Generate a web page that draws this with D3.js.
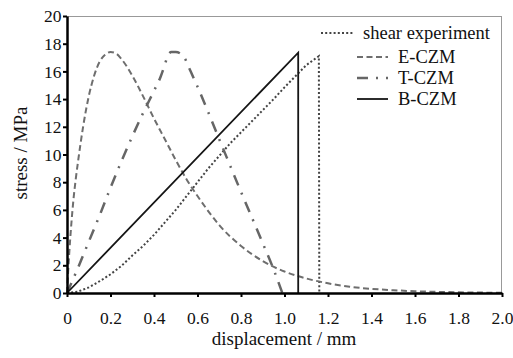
<!DOCTYPE html>
<html>
<head>
<meta charset="utf-8">
<script src="https://cdn.jsdelivr.net/npm/d3@7"></script>
<style>
  body { margin: 0; background: #fff; }
  svg { display: block; font-family: "Liberation Serif", "DejaVu Serif", serif; }
</style>
</head>
<body>
<svg id="chart" width="513" height="358"></svg>
<script>
// values (displacement mm, stress MPa)
var shearX = [0, 0.05, 0.1, 0.15, 0.2, 0.25, 0.3, 0.35, 0.4, 0.45, 0.5, 0.55, 0.6, 0.65, 0.7, 0.75, 0.8, 0.85, 0.9, 0.95, 1.0, 1.05, 1.1, 1.14, 1.158, 1.16];
var shearY = [0, 0.1, 0.4, 0.85, 1.35, 1.95, 2.7, 3.4, 4.2, 5.1, 6.0, 7.0, 8.0, 9.0, 9.9, 10.8, 11.6, 12.4, 13.2, 14.0, 14.85, 15.65, 16.45, 16.9, 17.1, 0];

var eczmX = [0, 0.01, 0.02, 0.03, 0.04, 0.05, 0.075, 0.1, 0.125, 0.15, 0.175, 0.2, 0.225, 0.25, 0.3, 0.35, 0.4, 0.45, 0.5, 0.55, 0.6, 0.65, 0.7, 0.8, 0.9, 1.0, 1.1, 1.2, 1.3, 1.4, 1.5, 1.6, 1.8, 2.0];
var eczmY = [0, 2.8, 5.0, 6.8, 8.2, 9.4, 12.1, 14.2, 15.7, 16.7, 17.2, 17.4, 17.3, 16.9, 15.7, 14.2, 12.6, 11.1, 9.6, 8.2, 7.0, 5.9, 4.9, 3.4, 2.3, 1.55, 1.05, 0.7, 0.45, 0.3, 0.2, 0.13, 0.05, 0.02];

var tczmX = [0, 0.05, 0.1, 0.15, 0.2, 0.25, 0.3, 0.35, 0.4, 0.43, 0.45, 0.465, 0.48, 0.5, 0.52, 0.54, 0.56, 0.58, 0.6, 0.7, 0.8, 0.9, 0.95, 0.99];
var tczmY = [0, 1.8, 3.7, 5.6, 7.6, 9.5, 11.3, 13.0, 14.6, 15.6, 16.5, 17.2, 17.4, 17.4, 17.3, 17.0, 16.3, 15.6, 14.9, 11.1, 7.3, 3.6, 1.7, 0];

var bczmX = [0, 1.063, 1.063];
var bczmY = [0, 17.35, 0];

var xTicks = [0, 0.2, 0.4, 0.6, 0.8, 1.0, 1.2, 1.4, 1.6, 1.8, 2.0];
var yTicks = [0, 2, 4, 6, 8, 10, 12, 14, 16, 18, 20];

var series = [
  { name: 'shear experiment', xs: shearX, ys: shearY, color: '#444', width: 2, dash: '2,2.2', curve: d3.curveLinear, lx: [321, 354] },
  { name: 'E-CZM', xs: eczmX, ys: eczmY, color: '#6e6e6e', width: 2, dash: '6,3.5', curve: d3.curveMonotoneX, lx: [357, 388] },
  { name: 'T-CZM', xs: tczmX, ys: tczmY, color: '#666', width: 2.5, dash: '11,8,2,8', curve: d3.curveMonotoneX, lx: [357, 388] },
  { name: 'B-CZM', xs: bczmX, ys: bczmY, color: '#151515', width: 1.8, dash: null, curve: d3.curveLinear, lx: [357, 388] }
];

var svg = d3.select('#chart');
var plotLeft = 67, plotRight = 502, plotTop = 16, plotBottom = 293;

var x = d3.scaleLinear().domain([0, 2]).range([plotLeft, plotRight]);
var y = d3.scaleLinear().domain([0, 20]).range([plotBottom, plotTop]);

// thin frame on top and right
svg.append('line').attr('x1', plotLeft).attr('x2', plotRight).attr('y1', plotTop + 0.5).attr('y2', plotTop + 0.5)
  .attr('stroke', '#999').attr('stroke-width', 1);
svg.append('line').attr('x1', plotRight - 0.5).attr('x2', plotRight - 0.5).attr('y1', plotTop).attr('y2', plotBottom)
  .attr('stroke', '#999').attr('stroke-width', 1);

// curves
series.forEach(function (s) {
  var pts = s.xs.map(function (v, i) { return [v, s.ys[i]]; });
  var line = d3.line().x(function (d) { return x(d[0]); }).y(function (d) { return y(d[1]); }).curve(s.curve);
  svg.append('path')
    .attr('d', line(pts))
    .attr('fill', 'none')
    .attr('stroke', s.color)
    .attr('stroke-width', s.width)
    .attr('stroke-dasharray', s.dash)
    .attr('stroke-linejoin', 'miter');
});

// axes
var xAxis = d3.axisBottom(x).tickValues(xTicks).tickSize(4).tickSizeOuter(0).tickPadding(14.5)
  .tickFormat(function (d) { return d === 0 ? '0' : d3.format('.1f')(d); });
var yAxis = d3.axisLeft(y).tickValues(yTicks).tickSize(4).tickSizeOuter(0).tickPadding(1.5)
  .tickFormat(d3.format('d'));

var gx = svg.append('g').attr('transform', 'translate(0,' + plotBottom + ')').call(xAxis);
var gy = svg.append('g').attr('transform', 'translate(' + plotLeft + ',0)').call(yAxis);

[gx, gy].forEach(function (g) {
  g.select('.domain').attr('stroke', '#000').attr('stroke-width', 2.5);
  g.selectAll('.tick line').attr('stroke', '#000').attr('stroke-width', 2);
  g.selectAll('.tick text').attr('fill', '#111').style('font-size', '17.5px')
    .style('font-family', '"Liberation Serif", serif');
});

// axis titles
svg.append('text').attr('x', 284).attr('y', 345).attr('text-anchor', 'middle')
  .style('font-size', '19px').attr('fill', '#111').text('displacement / mm');
svg.append('text').attr('transform', 'translate(27,153) rotate(-90)').attr('text-anchor', 'middle')
  .style('font-size', '19px').attr('fill', '#111').text('stress / MPa');

// legend
var legY = [33, 57, 78, 99];
var legTextX = [363, 398, 398, 398];
series.forEach(function (s, i) {
  svg.append('line').attr('x1', s.lx[0]).attr('x2', s.lx[1]).attr('y1', legY[i]).attr('y2', legY[i])
    .attr('stroke', s.color).attr('stroke-width', s.width).attr('stroke-dasharray', s.dash);
  svg.append('text').attr('x', legTextX[i]).attr('y', legY[i] + 6)
    .style('font-size', '18.5px').attr('fill', '#111').text(s.name);
});
</script>
</body>
</html>
